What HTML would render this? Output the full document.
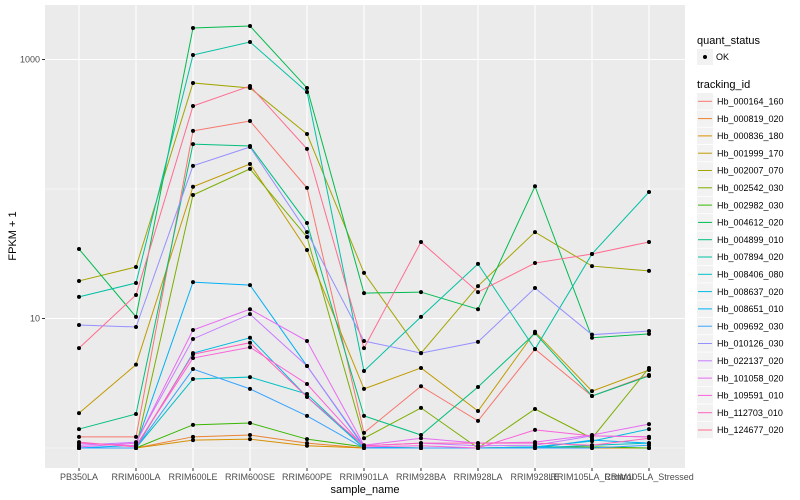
<!DOCTYPE html>
<html><head><meta charset="utf-8"><style>
body{margin:0;background:#fff;}
svg{display:block;font-family:"Liberation Sans",sans-serif;}
</style></head><body>
<svg id="chart" width="800" height="500" viewBox="0 0 800 500">
<rect x="0" y="0" width="800" height="500" fill="#fff"/>
<rect x="45" y="5" width="640" height="463" fill="#EBEBEB"/>
<g id="grid"></g>
<g id="series"></g>
<g id="axes"></g>
<g id="legend"></g>
</svg>
<script>
const categories = ["PB350LA","RRIM600LA","RRIM600LE","RRIM600SE","RRIM600PE","RRIM901LA","RRIM928BA","RRIM928LA","RRIM928LE","RRIM105LA_Control","RRIM105LA_Stressed"];
const trackingIds = ["Hb_000164_160","Hb_000819_020","Hb_000836_180","Hb_001999_170","Hb_002007_070","Hb_002542_030","Hb_002982_030","Hb_004612_020","Hb_004899_010","Hb_007894_020","Hb_008406_080","Hb_008637_020","Hb_008651_010","Hb_009692_030","Hb_010126_030","Hb_022137_020","Hb_101058_020","Hb_109591_010","Hb_112703_010","Hb_124677_020"];
const colors = ["#F8766D","#EA8331","#D89000","#C09B00","#A3A500","#7CAE00","#39B600","#00BB4E","#00BF7D","#00C1A3","#00BFC4","#00BAE0","#00B0F6","#35A2FF","#9590FF","#C77CFF","#E76BF3","#FA62DB","#FF62BC","#FF6C91"];
const s000164 = [1.22,1.22,281,335,102,1.31,3.0,1.62,5.8,2.52,3.66];
const s000819 = [1,1,1.22,1.26,1.09,1,1,1,1,1,1];
const s000836 = [1,1,1.15,1.17,1.04,1,1,1,1,1,1];
const s001999 = [1.86,4.4,104,156,33.8,2.86,4.15,1.93,7.9,2.75,4.0];
const s002007 = [19.5,25.0,659,603,266,22.5,5.4,17.8,46.5,25.4,23.3];
const s002542 = [1,1,89.9,143,42.6,1.19,2.04,1,2.0,1.19,4.15];
const s002982 = [1,1,1.51,1.56,1.17,1.02,1,1,1.02,1.02,1];
const s004612 = [34.4,10.3,1750,1815,603,15.7,16.0,11.8,105,7.1,7.6];
const s004899 = [1.40,1.83,222,215,54.6,1.77,1.26,2.96,7.7,2.52,3.6];
const s007894 = [14.7,18.8,1083,1365,561,3.93,10.3,26.4,5.8,31.5,94.8];
const s008406 = [1,1,3.41,3.53,2.61,1,1,1,1,1.05,1.09];
const s008637 = [1,1,5.4,7.1,2.48,1,1,1,1.02,1.13,1.40];
const s008651 = [1,1.05,19.1,18.1,4.3,1.02,1,1,1,1.15,1.09];
const s009692 = [1,1,4.07,2.86,1.77,1,1,1,1,1,1.05];
const s010126 = [8.9,8.6,151,211,46.5,6.7,5.4,6.6,17.2,7.5,8.0];
const s022137 = [1.05,1.11,6.95,10.8,4.3,1.04,1.09,1.04,1.05,1.24,1.22];
const s101058 = [1.02,1.09,8.15,11.8,6.7,1.05,1.19,1.09,1.11,1.26,1.53];
const s109591 = [1.09,1.04,4.95,6.0,3.12,1.02,1.04,1,1.38,1.24,1.22];
const s112703 = [1.11,1.02,5.3,6.5,2.48,1.04,1.09,1.09,1.09,1.05,1.19];
const s124677 = [5.9,15.2,437,624,204,5.9,39.0,16.0,26.8,31.5,39.0];
const seriesValues = [s000164,s000819,s000836,s001999,s002007,s002542,s002982,s004612,s004899,s007894,s008406,s008637,s008651,s009692,s010126,s022137,s101058,s109591,s112703,s124677];
const yTickValues = [10,1000];
const yTickLabels = ["10","1000"];
const yMinorValues = [1,100];

const NS="http://www.w3.org/2000/svg";
function mk(tag,attrs,parent){const e=document.createElementNS(NS,tag);for(const k in attrs)e.setAttribute(k,attrs[k]);parent.appendChild(e);return e;}
function xScale(i){return 79+57*i;}
function yScale(v){return 448-Math.log10(v)*129.5;}
const grid=document.getElementById('grid'),ser=document.getElementById('series'),axes=document.getElementById('axes'),leg=document.getElementById('legend');
yMinorValues.forEach(v=>{const l=mk('line',{x1:45,x2:685,y1:yScale(v),y2:yScale(v),stroke:'#fff','stroke-width':0.6},grid);

});
yTickValues.forEach((v,i)=>{const y=yScale(v);
const l=mk('line',{x1:45,x2:685,y1:y,y2:y,stroke:'#fff','stroke-width':1.1},grid);


const t=mk('line',{x1:42,x2:45,y1:y,y2:y,stroke:'#333','stroke-width':1},axes);


const tx=mk('text',{x:40,y:y+3,'text-anchor':'end','font-size':9,fill:'#4d4d4d'},axes);tx.textContent=yTickLabels[i];

});
categories.forEach((c,i)=>{const x=xScale(i);
const l=mk('line',{x1:x,x2:x,y1:5,y2:468,stroke:'#fff','stroke-width':1.1},grid);


const t=mk('line',{x1:x,x2:x,y1:468,y2:471,stroke:'#333','stroke-width':1},axes);


const tx=mk('text',{x:x,y:480,'text-anchor':'middle','font-size':9,fill:'#4d4d4d'},axes);tx.textContent=c;

});
const xt=mk('text',{x:365,y:493,'text-anchor':'middle','font-size':11,fill:'#000'},axes);xt.textContent='sample_name';


const yt=mk('text',{x:0,y:0,'text-anchor':'middle','font-size':11,fill:'#000',transform:'translate(16,236) rotate(-90)'},axes);yt.textContent='FPKM + 1';


seriesValues.forEach((vals,s)=>{const pts=vals.map((v,i)=>xScale(i)+','+yScale(v)).join(' ');
const pl=mk('polyline',{points:pts,fill:'none',stroke:colors[s],'stroke-width':1},ser);

});
seriesValues.forEach((vals,s)=>{vals.forEach((v,i)=>{const c=mk('circle',{cx:xScale(i),cy:yScale(v),r:2,fill:'#000'},ser);

});});
// legend
const qt=mk('text',{x:697,y:44,'font-size':11,fill:'#000'},leg);qt.textContent='quant_status';


const qb=mk('rect',{x:697,y:49,width:16,height:16,fill:'#F2F2F2'},leg);


const qc=mk('circle',{cx:705,cy:57,r:2,fill:'#000'},leg);


const qo=mk('text',{x:716,y:60,'font-size':9,fill:'#000'},leg);qo.textContent='OK';


const tt=mk('text',{x:697,y:88,'font-size':11,fill:'#000'},leg);tt.textContent='tracking_id';


trackingIds.forEach((id,s)=>{const y=93+s*17.3;
const b=mk('rect',{x:697,y:y,width:16,height:16.5,fill:'#F2F2F2'},leg);


const l=mk('line',{x1:698,x2:712,y1:y+8.3,y2:y+8.3,stroke:colors[s],'stroke-width':1},leg);


const t=mk('text',{x:717,y:y+11.5,'font-size':9,fill:'#000'},leg);t.textContent=id;

});
</script>
</body></html>
